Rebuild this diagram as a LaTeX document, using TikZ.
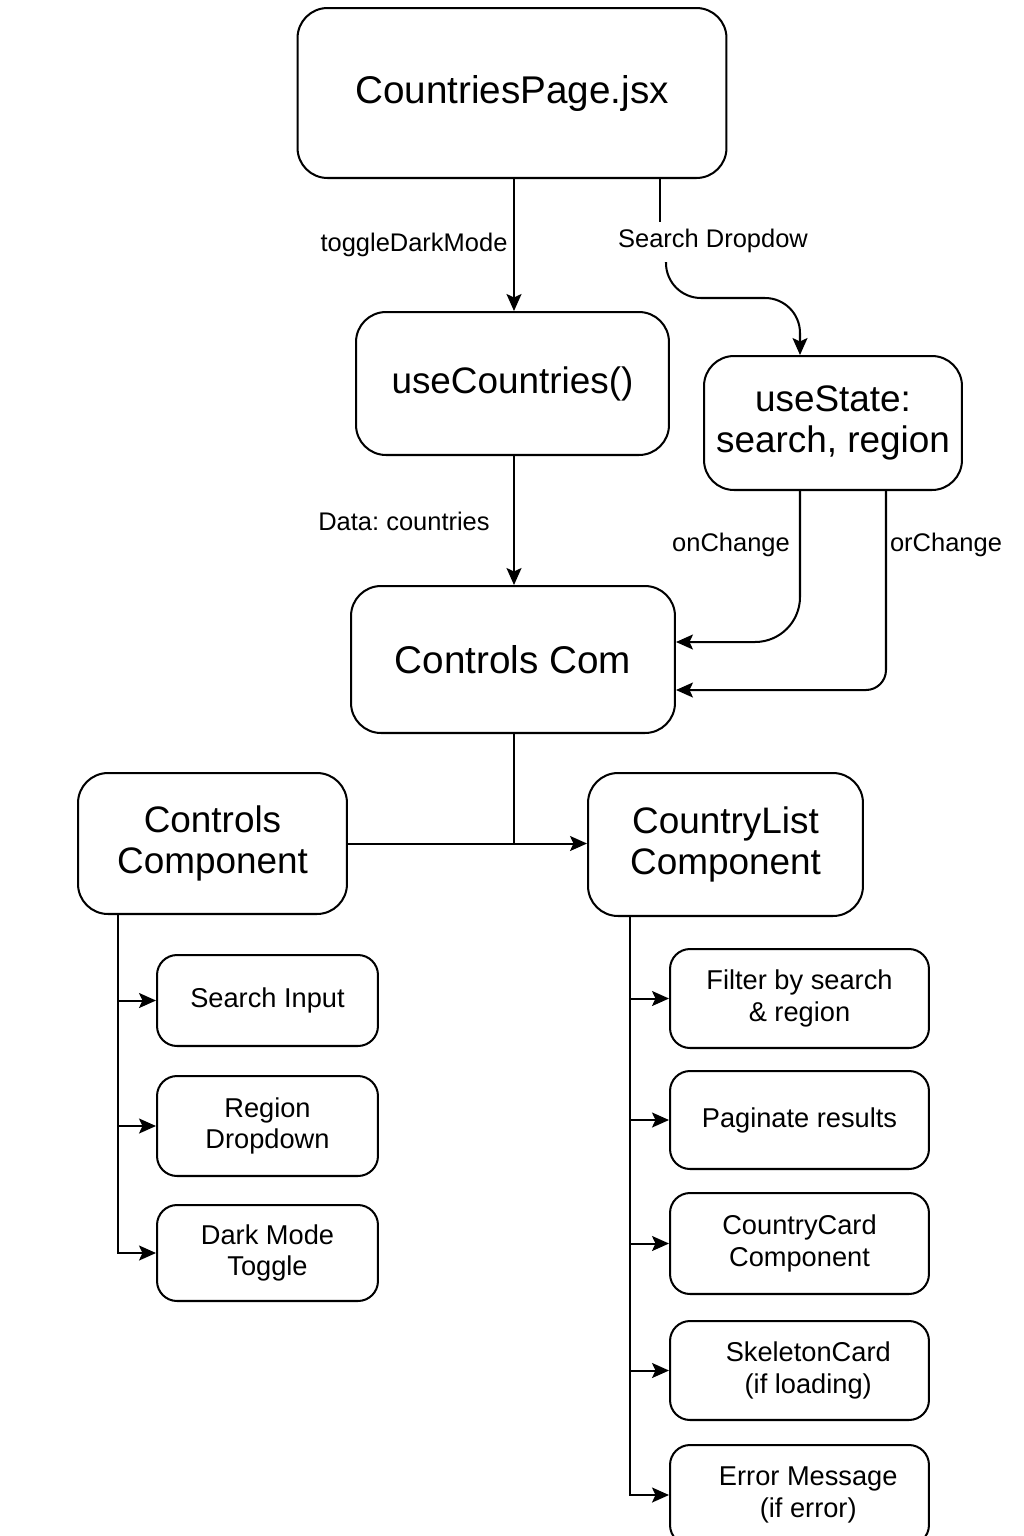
\documentclass[tikz,border=0pt]{standalone}
\usepackage{fontspec}
\setmainfont{Liberation Sans}
\usetikzlibrary{arrows.meta}
\frenchspacing

\begin{document}
\begin{tikzpicture}[x=0.02cm, y=-0.02cm, line width=1.15pt, >={Stealth[length=3.4mm,width=3mm,inset=0.7mm]},
    bigbox/.style={rectangle, draw, rounded corners=0.6cm, align=center, font=\fontsize{21}{23}\selectfont},
    smallbox/.style={rectangle, draw, rounded corners=0.4cm, minimum width=4.42cm, align=center, font=\fontsize{15.5}{18}\selectfont},
    taskbox/.style={smallbox, minimum width=5.18cm},
    lbl/.style={font=\fontsize{14.5}{17}\selectfont, inner sep=1pt}]
        \useasboundingbox (0,0) rectangle (1024,1536);

        % top row
        \node (page) [bigbox, minimum width=8.58cm, minimum height=3.4cm, font=\fontsize{22}{24}\selectfont] at (512,93) {CountriesPage.jsx};
        \node (usecountries) [bigbox, minimum width=6.26cm, minimum height=2.86cm] at (512.5,383.5) {useCountries()};
        \node (usestate) [bigbox, minimum width=5.16cm, minimum height=2.68cm] at (833,423) {useState:\\search, region};
        \node (controlscom) [bigbox, minimum width=6.48cm, minimum height=2.94cm, font=\fontsize{22}{24}\selectfont] at (513,659.5) {Controls Com};

        % components
        \node (controls) [bigbox, minimum width=5.38cm, minimum height=2.82cm] at (212.5,843.5) {Controls\\Component};
        \node (countrylist) [bigbox, minimum width=5.5cm, minimum height=2.86cm] at (725.5,844.5) {CountryList\\Component};

        \node (search) [smallbox, minimum height=1.82cm] at (267.5,1000.5) {Search Input};
        \node (region) [smallbox, minimum height=2.0cm] at (267.5,1126) {Region\\Dropdown};
        \node (darkmode) [smallbox, minimum height=1.92cm] at (267.5,1253) {Dark Mode\\Toggle};

        \node (filter) [taskbox, minimum height=1.98cm] at (799.5,998.5) {Filter by search\\\& region};
        \node (paginate) [taskbox, minimum height=1.96cm] at (799.5,1120) {Paginate results};
        \node (card) [taskbox, minimum height=2.02cm] at (799.5,1243.5) {CountryCard\\Component};
        \node (skeleton) [taskbox, minimum height=1.98cm] at (799.5,1370.5) {\hspace*{0.35cm}SkeletonCard\\\hspace*{0.35cm}(if loading)};
        \node (errmsg) [taskbox, minimum height=2.0cm] at (799.5,1495) {\hspace*{0.35cm}Error Message\\\hspace*{0.35cm}(if error)};

        % labels
        \node (toggle) [lbl] at (414,245) {toggleDarkMode};
        \node (sdrop) [lbl] at (713,241) {Search Dropdow};
        \node (data) [lbl] at (404,521) {Data: countries};
        \node (onchange) [lbl] at (731,545) {onChange};
        \node (orchange) [lbl] at (946,545) {orChange};

        \coordinate (sdin) at (660,222);
        \coordinate (sdout) at (666,262);
        \coordinate (sdturn) at (800,298);

        \draw [->] (page.south -| 514,0) -- (usecountries.north -| 514,0);
        \draw (page.south -| sdin) -- (sdin);
        \draw [->, rounded corners=0.7cm] (sdout) |- (sdturn) -- (sdturn |- usestate.north);

        \draw [->] (usecountries.south -| 514,0) -- (controlscom.north -| 514,0);
        \draw [->, rounded corners=0.9cm] (usestate.south -| 800,0) |- (controlscom.east |- 0,642);
        \draw [->, rounded corners=0.4cm] (usestate.south -| 886,0) |- (controlscom.east |- 0,690);

        \draw (controlscom.south -| 514,0) -- (controls.east -| 514,0);
        \draw [->] (controls.east) -- (controls.east -| countrylist.west);

        \draw [->] (controls.south -| 118,0) |- (darkmode.west);
        \draw [->] (search.west -| 118,0) -- (search.west);
        \draw [->] (region.west -| 118,0) -- (region.west);

        \draw [->] (countrylist.south -| 630,0) |- (errmsg.west);
        \draw [->] (filter.west -| 630,0) -- (filter.west);
        \draw [->] (paginate.west -| 630,0) -- (paginate.west);
        \draw [->] (card.west -| 630,0) -- (card.west);
        \draw [->] (skeleton.west -| 630,0) -- (skeleton.west);
\end{tikzpicture}
\end{document}
